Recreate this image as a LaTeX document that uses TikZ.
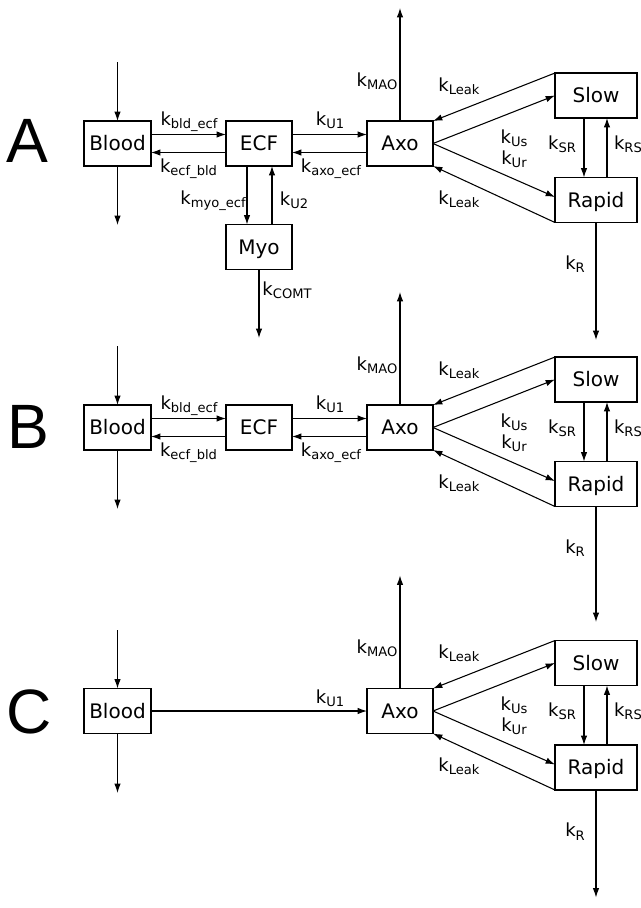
\documentclass[tikz,border=0pt]{standalone}
\usepackage{fontspec}
\setmainfont{DejaVu Sans}
\newfontfamily\letterfont{Liberation Sans}
\usetikzlibrary{arrows.meta,calc}
\tikzset{
 box/.style={draw, line width=0.9pt, inner sep=0pt, outer sep=0pt, minimum width=49.5pt, minimum height=33.75pt, font=\fontsize{15}{15}\selectfont, text height=10.9pt, text depth=0pt},
 widebox/.style={box, minimum width=61.5pt},
 bloodbox/.style={box, minimum width=50.25pt},
 lbl/.style={inner sep=0pt, outer sep=0pt},
 flow/.style={line width=0.8pt, -{Latex[length=7pt,width=4.8pt]}},
 panel/.style={font=\letterfont\fontsize{47}{47}\selectfont, inner sep=0pt},
}
\newcommand\kk[1]{{\fontsize{13.5}{13.5}\selectfont k}\raisebox{-2.5pt}{\fontsize{9.8}{10}\selectfont #1}}
% #1 suffix, #2 vertical offset, #3 end of k_R arrow
\newcommand\rightpart[3]{%
 \node[box] (Axo#1) at (400,{143.5+#2}) {Axo};
 \node[widebox] (Slow#1) at (596,{95.5+#2}) {Slow};
 \node[widebox] (Rapid#1) at (596,{200+#2}) {Rapid};
 \coordinate (mao#1) at (400,{8+#2});
 \coordinate (rout#1) at (596,{#3+#2});
 \draw[flow] (Axo#1.north) -- (mao#1);
 \draw[flow] (Slow#1.north west) -- (Axo#1.north east);
 \draw[flow] (Axo#1.east) -- (Slow#1.west);
 \draw[flow] (Axo#1.east) -- ($(Rapid#1.west)+(0,-3)$);
 \draw[flow] (Rapid#1.south west) -- (Axo#1.south east);
 \draw[flow] ($(Slow#1.south)+(-12,0)$) -- ($(Rapid#1.north)+(-12,0)$);
 \draw[flow] ($(Rapid#1.north)+(11,0)$) -- ($(Slow#1.south)+(11,0)$);
 \draw[flow] (Rapid#1.south) -- (rout#1);
 \node[lbl] (kmao#1) at (377,{81+#2}) {\kk{MAO}};
 \node[lbl] (kleakt#1) at (459,{86+#2}) {\kk{Leak}};
 \node[lbl] (kus#1) at (514,{138+#2}) {\kk{Us}};
 \node[lbl] (kur#1) at (514,{159+#2}) {\kk{Ur}};
 \node[lbl] (kleakb#1) at (459,{199+#2}) {\kk{Leak}};
 \node[lbl] (ksr#1) at (562,{144+#2}) {\kk{SR}};
 \node[lbl, anchor=west] (krs#1) at (614,{144+#2}) {\kk{RS}};
 \node[lbl] (kr#1) at (575,{264+#2}) {\kk{R}};
}
% blood + ECF part; #1 suffix, #2 offset
\newcommand\leftpart[2]{%
 \node[bloodbox] (Blood#1) at (117.5,{143.5+#2}) {Blood};
 \node[box] (ECF#1) at (259,{143.5+#2}) {ECF};
 \coordinate (bin#1) at (117.5,{62+#2});
 \coordinate (bout#1) at (117.5,{225+#2});
 \draw[flow] (bin#1) -- (Blood#1.north);
 \draw[flow] (Blood#1.south) -- (bout#1);
 \draw[flow] ($(Blood#1.east)+(0,-9)$) -- ($(ECF#1.west)+(0,-9)$);
 \draw[flow] ($(ECF#1.west)+(0,9)$) -- ($(Blood#1.east)+(0,9)$);
 \draw[flow] ($(ECF#1.east)+(0,-9)$) -- ($(Axo#1.west)+(0,-9)$);
 \draw[flow] ($(Axo#1.west)+(0,9)$) -- ($(ECF#1.east)+(0,9)$);
 \node[lbl] (kbe#1) at (189,{121.5+#2}) {\kk{bld\_ecf}};
 \node[lbl] (keb#1) at (188.5,{168.7+#2}) {\kk{ecf\_bld}};
 \node[lbl] (ku1#1) at (330,{120+#2}) {\kk{U1}};
 \node[lbl] (kae#1) at (331,{169+#2}) {\kk{axo\_ecf}};
}
\begin{document}
\begin{tikzpicture}[x=0.75pt,y=-0.75pt]
\useasboundingbox (0,0) rectangle (640,908);
% Panel A
\node[panel] (LA) at (27,141) {A};
\rightpart{A}{0}{340}
\leftpart{A}{0}
\node[box] (MyoA) at (259,247) {Myo};
\coordinate (moutA) at (259,338);
\draw[flow] ($(ECFA.south)+(-12,0)$) -- ($(MyoA.north)+(-12,0)$);
\draw[flow] ($(MyoA.north)+(13,0)$) -- ($(ECFA.south)+(13,0)$);
\draw[flow] (MyoA.south) -- (moutA);
\node[lbl] (kmeA) at (213,201) {\kk{myo\_ecf}};
\node[lbl] (ku2A) at (294,200) {\kk{U2}};
\node[lbl] (kcomtA) at (287,290) {\kk{COMT}};
% Panel B
\node[panel] (LB) at (28,427) {B};
\rightpart{B}{284}{338}
\leftpart{B}{284}
% Panel C
\node[panel] (LC) at (29,712) {C};
\rightpart{C}{567.5}{330}
\node[bloodbox] (BloodC) at (117.5,711) {Blood};
\coordinate (binC) at (117.5,630);
\coordinate (boutC) at (117.5,793);
\draw[flow] (binC) -- (BloodC.north);
\draw[flow] (BloodC.south) -- (boutC);
\draw[flow] (BloodC.east) -- (AxoC.west);
\node[lbl] (ku1C) at (330,698) {\kk{U1}};
\end{tikzpicture}
\end{document}
